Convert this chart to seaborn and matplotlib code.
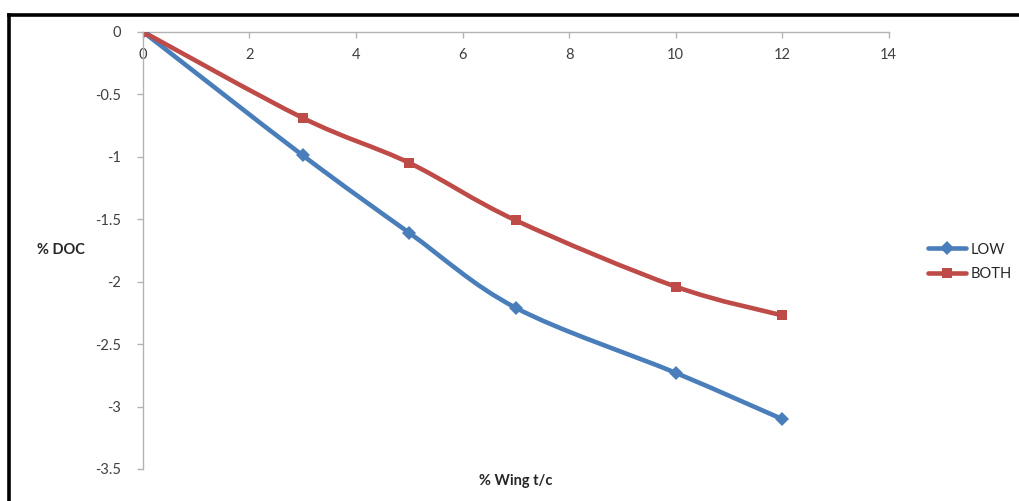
import numpy as np
import pandas as pd
import seaborn as sns
import matplotlib
matplotlib.use("Agg")
import matplotlib.pyplot as plt
from matplotlib.path import Path
from matplotlib.patches import PathPatch
from matplotlib.lines import Line2D

# Data
wing_tc = [0, 3, 5, 7, 10, 12]
low = [0, -0.99, -1.61, -2.21, -2.73, -3.10]
both = [0, -0.69, -1.05, -1.51, -2.04, -2.27]
series_names = ["LOW", "BOTH"]
x_ticks = [0, 2, 4, 6, 8, 10, 12, 14]
y_ticks = [0, -0.5, -1, -1.5, -2, -2.5, -3, -3.5]
y_tick_labels = ["0", "-0.5", "-1", "-1.5", "-2", "-2.5", "-3", "-3.5"]

colors = {"LOW": "#4A7EBB", "BOTH": "#BE4B48"}
markers = {"LOW": "D", "BOTH": "s"}
marker_sizes = {"LOW": 7, "BOTH": 7}

sns.set_theme(style="white")
plt.rcParams["font.family"] = ["Lato", "DejaVu Sans"]

df = pd.DataFrame({
    "x": wing_tc * 2,
    "y": low + both,
    "series": ["LOW"] * len(wing_tc) + ["BOTH"] * len(wing_tc),
})

fig = plt.figure(figsize=(10.19, 5.01), dpi=100)
ax = fig.add_axes([0.1403, 0.0639, 0.872 - 0.1403, 0.9367 - 0.0639])

# Markers through seaborn
sns.lineplot(data=df, x="x", y="y", hue="series", style="series",
             palette=colors, markers=markers, dashes=False, linewidth=0,
             markersize=7, markeredgewidth=0, ax=ax, legend=False, sort=False)


def smooth_path(xs, ys):
    """Cubic Bezier path through the points (Catmull-Rom style smoothing)."""
    pts = np.column_stack([xs, ys]).astype(float)
    n = len(pts)
    verts = [pts[0]]
    codes = [Path.MOVETO]
    for i in range(n - 1):
        p0 = pts[i - 1] if i > 0 else pts[i]
        p1 = pts[i]
        p2 = pts[i + 1]
        p3 = pts[i + 2] if i + 2 < n else pts[i + 1]
        c1 = p1 + (p2 - p0) / 6.0
        c2 = p2 - (p3 - p1) / 6.0
        verts += [c1, c2, p2]
        codes += [Path.CURVE4] * 3
    return Path(verts, codes)


for name, vals in zip(series_names, [low, both]):
    patch = PathPatch(smooth_path(wing_tc, vals), facecolor="none",
                      edgecolor=colors[name], linewidth=3.3, zorder=1.5,
                      capstyle="round", joinstyle="round")
    ax.add_patch(patch)

ax.set_xlim(0, 14)
ax.set_ylim(-3.5, 0)

# Horizontal axis crosses at y = 0 (top of the plot)
for side in ["top", "right"]:
    ax.spines[side].set_visible(False)
ax.spines["bottom"].set_position(("data", 0))
ax.spines["bottom"].set_color("#B3B3B3")
ax.spines["left"].set_color("#B3B3B3")
ax.spines["bottom"].set_linewidth(1.0)
ax.spines["left"].set_linewidth(1.0)
ax.spines["bottom"].set_zorder(0.5)

ax.set_xticks(x_ticks)
ax.set_xticklabels([str(t) for t in x_ticks])
ax.set_yticks(y_ticks)
ax.set_yticklabels(y_tick_labels)
ax.tick_params(axis="x", direction="out", length=4, width=1, color="#B3B3B3",
               pad=8, labelsize=10.5, labelcolor="#404040", bottom=True)
ax.tick_params(axis="y", direction="out", length=4, width=1, color="#B3B3B3",
               pad=12, labelsize=10.5, labelcolor="#404040", left=True)

ax.set_xlabel("")
ax.set_ylabel("")
fig.text(0.506, 0.040, "% Wing t/c", ha="center", va="center",
         fontsize=10.5, fontweight="bold", color="#262626")
fig.text(0.0363, 0.501, "% DOC", ha="left", va="center",
         fontsize=10.5, fontweight="bold", color="#262626")

# Legend
handles = [Line2D([0], [0], color=colors[n], lw=3.3, marker=markers[n],
                  markersize=7, markeredgewidth=0) for n in series_names]
fig.legend(handles, series_names, loc="center left",
           bbox_to_anchor=(0.898, 0.477), frameon=False, fontsize=10.5,
           handlelength=2.6, handletextpad=0.3, labelspacing=0.75,
           labelcolor="#262626")

# Outer frame (left and top edges)
fig.add_artist(Line2D([0.0090, 0.0090], [0.0, 0.9700], transform=fig.transFigure,
                      color="black", lw=2.6, solid_capstyle="projecting"))
fig.add_artist(Line2D([0.0090, 1.0], [0.9700, 0.9700], transform=fig.transFigure,
                      color="black", lw=2.6, solid_capstyle="projecting"))

fig.savefig("out.png", dpi=100)
